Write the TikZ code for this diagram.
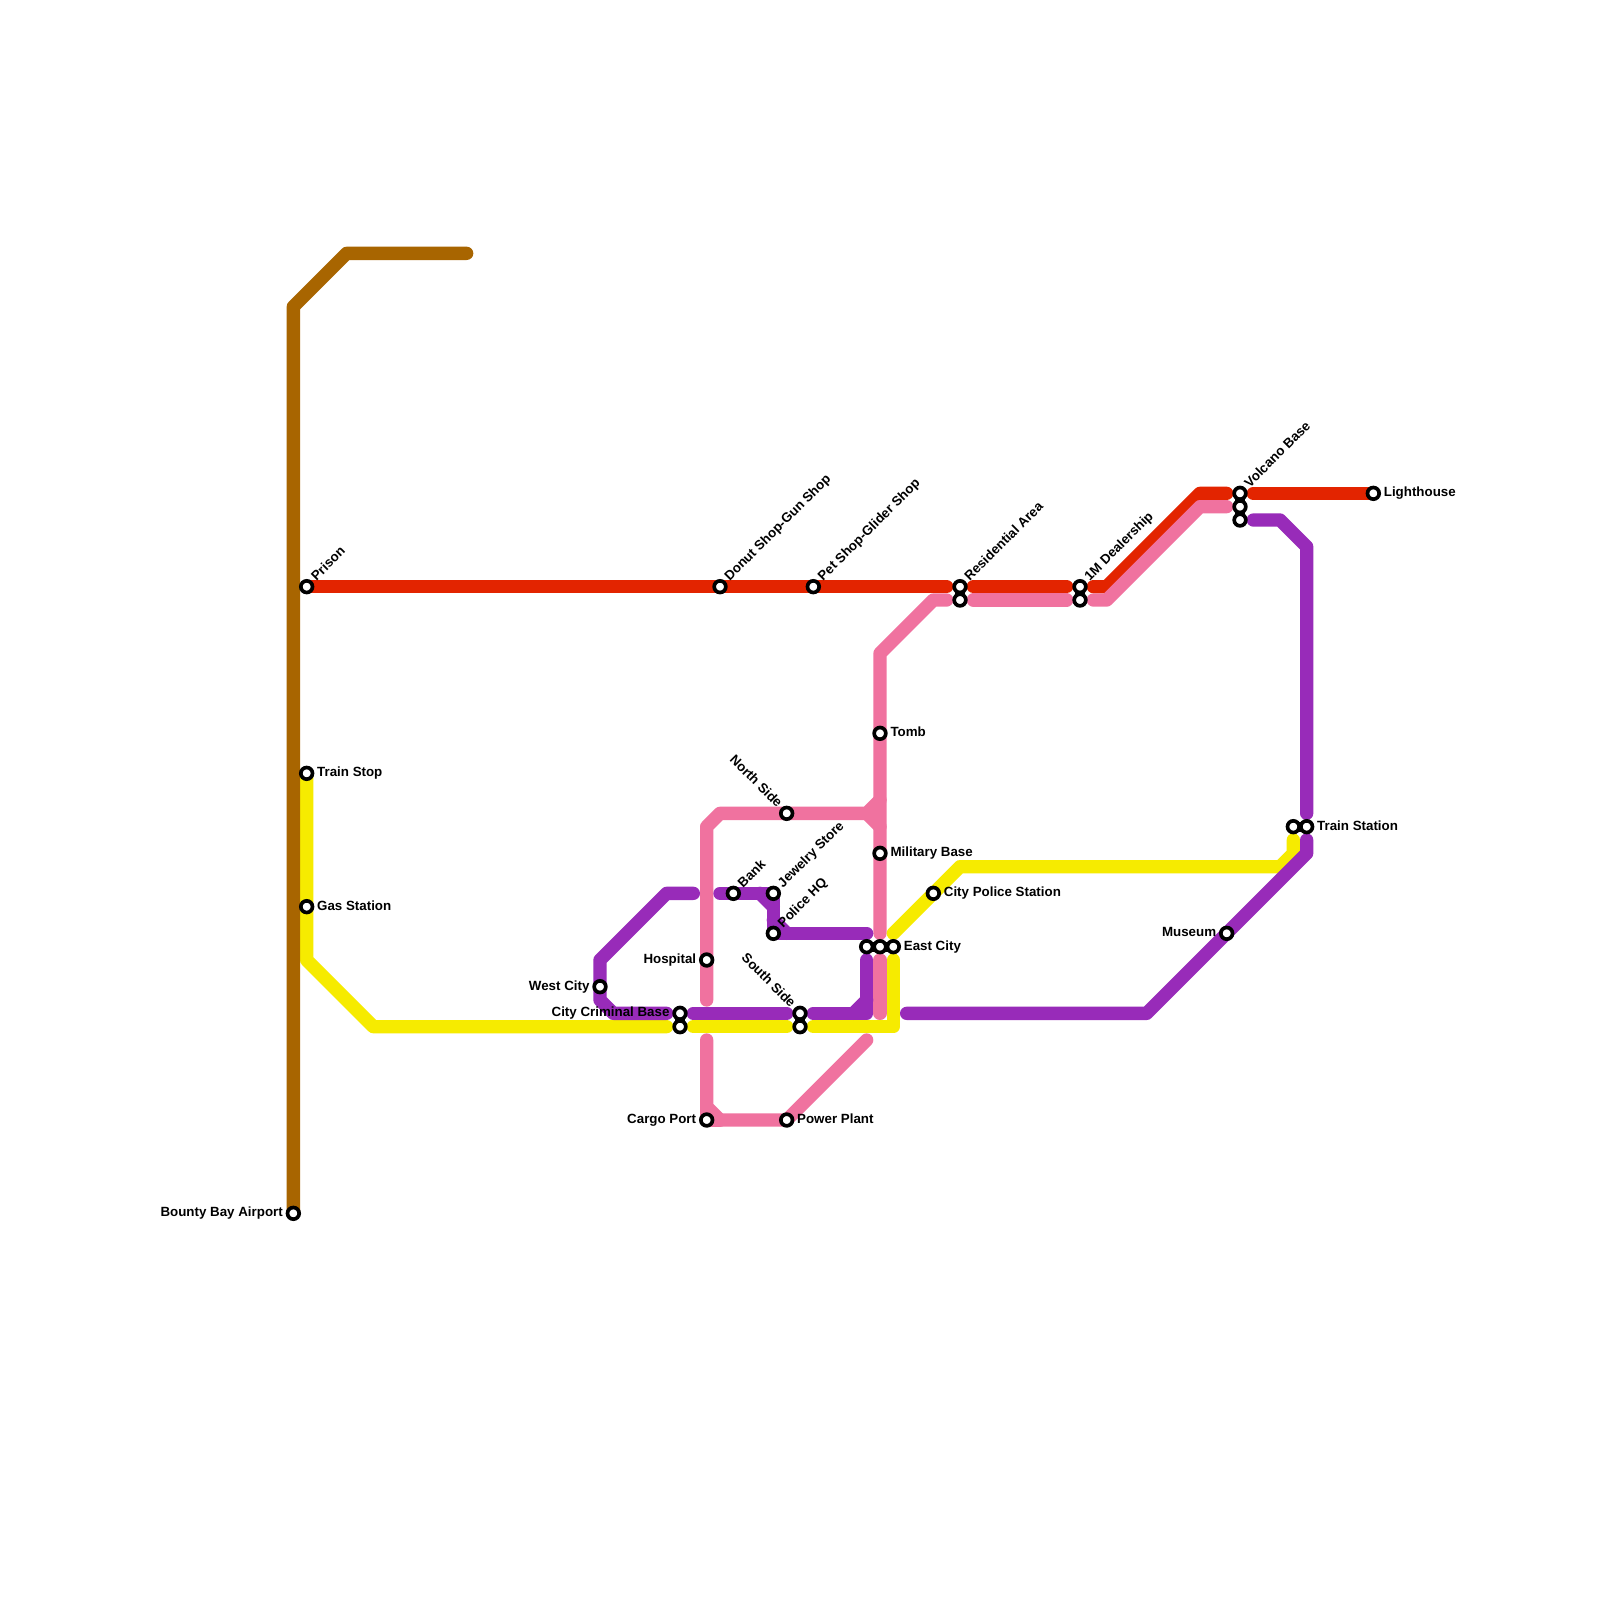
\documentclass[tikz,border=0pt]{standalone}
\usepackage{fontspec}
\setmainfont{Liberation Sans}[BoldFont={Liberation Sans Bold}]
\definecolor{cbrown}{HTML}{A86500}
\definecolor{cred}{HTML}{E32400}
\definecolor{cyellow}{HTML}{F6EB00}
\definecolor{cpink}{HTML}{F0729F}
\definecolor{cpurple}{HTML}{982BB9}
\tikzset{
  metro/.style={line width=10pt,line cap=round,line join=round},
  stn/.style={circle,draw=black,fill=white,line width=2.75pt,inner sep=0pt,outer sep=0pt,minimum size=8.75pt},
  link/.style={draw=black,line width=7.5pt},
  txt/.style={inner sep=0pt,font=\fontsize{10}{12}\selectfont\bfseries},
  rlab/.style={txt,anchor=base west,xshift=7.7pt,yshift=-2.6pt},
  llab/.style={txt,anchor=base east,xshift=-7.7pt,yshift=-2.6pt},
  ulab/.style={txt,anchor=base west,rotate=45,xshift=7.8pt,yshift=-2.5pt},
  dlab/.style={txt,anchor=base east,rotate=-45,xshift=-7.8pt,yshift=-2.5pt},
}
\begin{document}
\begin{tikzpicture}[x=10pt,y=-10pt]
\useasboundingbox (0,0) rectangle (120,120);
\fill[white] (0,0) rectangle (120,120);
% stations
\coordinate (airport) at (22,91);
\coordinate (prison) at (23,44);
\coordinate (trainstop) at (23,58);
\coordinate (gas) at (23,68);
\coordinate (donut) at (54,44);
\coordinate (pet) at (61,44);
\coordinate (resA) at (72,44);
\coordinate (resB) at (72,45);
\coordinate (dealA) at (81,44);
\coordinate (dealB) at (81,45);
\coordinate (volA) at (93,37);
\coordinate (volB) at (93,38);
\coordinate (volC) at (93,39);
\coordinate (light) at (103,37);
\coordinate (tomb) at (66,55);
\coordinate (north) at (59,61);
\coordinate (mil) at (66,64);
\coordinate (bank) at (55,67);
\coordinate (jewel) at (58,67);
\coordinate (police) at (58,70);
\coordinate (cpol) at (70,67);
\coordinate (eastA) at (65,71);
\coordinate (eastB) at (66,71);
\coordinate (eastC) at (67,71);
\coordinate (hosp) at (53,72);
\coordinate (west) at (45,74);
\coordinate (critA) at (51,76);
\coordinate (critB) at (51,77);
\coordinate (southA) at (60,76);
\coordinate (southB) at (60,77);
\coordinate (cargo) at (53,84);
\coordinate (power) at (59,84);
\coordinate (museum) at (92,70);
\coordinate (tsA) at (97,62);
\coordinate (tsB) at (98,62);
% free ends and bends
\foreach \n/\x/\y in {
  b1/35/19,b2/26/19,b3/22/23,
  r1/71/44,r2/73/44,r3/80/44,r4/82/44,r5/83/44,r6/90/37,r7/92/37,r8/94/37,
  p1/71/45,p2/70/45,p3/66/49,p4/66/70,p5/73/45,p6/80/45,p7/82/45,p8/83/45,p9/90/38,p10/92/38,
  p11/66/60,p12/65/61,p13/66/62,p14/54/61,p15/53/62,p16/53/75,p17/66/72,p18/66/76,
  p19/53/78,p20/53/83,p21/54/84,p22/65/78,
  y1/23/72,y2/28/77,y3/50/77,y4/52/77,y5/59/77,y6/61/77,y7/67/77,y8/67/72,y9/67/70,y10/72/65,y11/96/65,y12/97/64,y13/97/63,
  u1/52/67,u2/50/67,u3/45/72,u4/45/75,u5/46/76,u6/50/76,u7/52/76,u8/59/76,u9/61/76,u10/64/76,u11/65/75,u12/65/76,u13/65/72,
  u14/54/67,u15/57/67,u16/58/68,u17/58/69,u18/59/70,u19/65/70,
  u20/68/76,u21/86/76,u22/98/64,u23/98/63,u24/98/61,u25/98/41,u26/96/39,u27/94/39}
  {\coordinate (\n) at (\x,\y);}
% red
\draw[metro,cred] (prison)--(r1);
\draw[metro,cred] (r2)--(r3);
\draw[metro,cred] (r4)--(r5)--(r6)--(r7);
\draw[metro,cred] (r8)--(light);
% pink
\draw[metro,cpink] (p1)--(p2)--(p3)--(p4);
\draw[metro,cpink] (p5)--(p6);
\draw[metro,cpink] (p7)--(p8)--(p9)--(p10);
\draw[metro,cpink] (p16)--(p15)--(p14)--(p12)--(p11);
\draw[metro,cpink] (p12)--(p13);
\draw[metro,cpink] (p17)--(p18);
\draw[metro,cpink] (p19)--(p20)--(p21)--(power)--(p22);
\draw[metro,cpink] (p20)--(cargo)--(p21);
% yellow
\draw[metro,cyellow] (trainstop)--(y1)--(y2)--(y3);
\draw[metro,cyellow] (y4)--(y5);
\draw[metro,cyellow] (y6)--(y7)--(y8);
\draw[metro,cyellow] (y9)--(y10)--(y11)--(y12)--(y13);
% purple
\draw[metro,cpurple] (u1)--(u2)--(u3)--(u4)--(u5)--(u6);
\draw[metro,cpurple] (u7)--(u8);
\draw[metro,cpurple] (u9)--(u12)--(u13);
\draw[metro,cpurple] (u10)--(u11);
\draw[metro,cpurple] (u14)--(jewel)--(police)--(u19);
\draw[metro,cpurple] (u15)--(u16);
\draw[metro,cpurple] (u17)--(u18);
\draw[metro,cpurple] (u20)--(u21)--(u22)--(u23);
\draw[metro,cpurple] (u24)--(u25)--(u26)--(u27);
% brown
\draw[metro,cbrown] (b1)--(b2)--(b3)--(airport);
% interchange links
\draw[link] (resA)--(resB);
\draw[link] (dealA)--(dealB);
\draw[link] (volA)--(volC);
\draw[link] (eastA)--(eastC);
\draw[link] (critA)--(critB);
\draw[link] (southA)--(southB);
\draw[link] (tsA)--(tsB);
% station markers
\foreach \s in {airport,prison,trainstop,gas,donut,pet,resA,resB,dealA,dealB,volA,volB,volC,light,tomb,north,mil,bank,jewel,police,cpol,eastA,eastB,eastC,hosp,west,critA,critB,southA,southB,cargo,power,museum,tsA,tsB}
  \node[stn] (m\s) at (\s) {};
% labels
\node[llab] (lairport) at (airport) {Bounty Bay Airport};
\node[ulab] (lprison) at (prison) {Prison};
\node[rlab] (ltrainstop) at (trainstop) {Train Stop};
\node[rlab] (lgas) at (gas) {Gas Station};
\node[ulab] (ldonut) at (donut) {Donut Shop-Gun Shop};
\node[ulab] (lpet) at (pet) {Pet Shop-Glider Shop};
\node[ulab] (lres) at (resA) {Residential Area};
\node[ulab] (ldeal) at (dealA) {1M Dealership};
\node[ulab] (lvol) at (volA) {Volcano Base};
\node[rlab] (llight) at (light) {Lighthouse};
\node[rlab] (ltomb) at (tomb) {Tomb};
\node[dlab] (lnorth) at (north) {North Side};
\node[rlab] (lmil) at (mil) {Military Base};
\node[ulab] (lbank) at (bank) {Bank};
\node[ulab] (ljewel) at (jewel) {Jewelry Store};
\node[ulab] (lpolice) at (police) {Police HQ};
\node[rlab] (lcpol) at (cpol) {City Police Station};
\node[rlab] (least) at (eastC) {East City};
\node[llab] (lhosp) at (hosp) {Hospital};
\node[llab] (lwest) at (west) {West City};
\node[llab] (lcrit) at (critA) {City Criminal Base};
\node[dlab] (lsouth) at (southA) {South Side};
\node[llab] (lcargo) at (cargo) {Cargo Port};
\node[rlab] (lpower) at (power) {Power Plant};
\node[llab] (lmuseum) at (museum) {Museum};
\node[rlab] (lts) at (tsB) {Train Station};
\end{tikzpicture}
\end{document}
